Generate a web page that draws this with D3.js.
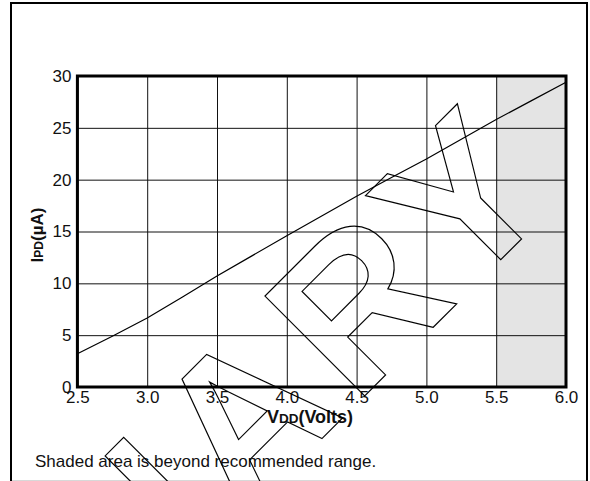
<!DOCTYPE html>
<html><head><meta charset="utf-8">
<script src="https://cdn.jsdelivr.net/npm/d3@7"></script>
<style>
body{margin:0;background:#fff}
svg{display:block}
text{font-family:"Liberation Sans",Arial,Helvetica,sans-serif}
</style>
</head><body>
<svg id="c" width="590" height="481"></svg>
<script>
// ---- data ----
const vdd = [2.5, 2.75, 3.0, 3.25, 3.5, 3.75, 4.0, 4.25, 4.5, 4.75, 5.0, 5.25, 5.5, 5.75, 6.0];
const ipd = [3.2, 4.9, 6.65, 8.65, 10.7, 12.65, 14.6, 16.5, 18.4, 20.2, 22.0, 23.9, 25.8, 27.6, 29.4];
const xTicks = [2.5, 3.0, 3.5, 4.0, 4.5, 5.0, 5.5, 6.0];
const yTicks = [0, 5, 10, 15, 20, 25, 30];
const shadedRange = [5.5, 6.0];
const footnote = "Shaded area is beyond recommended range.";
const watermark = "PRELIMINARY";

const svg = d3.select("#c");
const L = 77.4, R = 566, T = 76, B = 387;
const x = d3.scaleLinear().domain([2.5, 6.0]).range([L, R]);
const y = d3.scaleLinear().domain([0, 30]).range([B, T]);

// outer frame
svg.append("rect").attr("x", 11).attr("y", 3).attr("width", 576).attr("height", 520)
  .attr("fill", "#fff").attr("stroke", "#000").attr("stroke-width", 2);
svg.append("line").attr("x1", 12).attr("x2", 586).attr("y1", 480.5).attr("y2", 480.5)
  .attr("stroke", "#d8d8d8").attr("stroke-width", 1);

// shaded region
svg.append("rect").attr("x", x(shadedRange[0])).attr("y", T)
  .attr("width", x(shadedRange[1]) - x(shadedRange[0])).attr("height", B - T)
  .attr("fill", "#e4e4e4");

// grid
const gx = svg.append("g").attr("transform", `translate(0,${B})`)
  .call(d3.axisBottom(x).tickValues(xTicks).tickSize(-(B - T)).tickFormat(""));
const gy = svg.append("g").attr("transform", `translate(${L},0)`)
  .call(d3.axisLeft(y).tickValues(yTicks).tickSize(-(R - L)).tickFormat(""));
[gx, gy].forEach(g => {
  g.select(".domain").remove();
  g.selectAll("line").attr("stroke", "#111").attr("stroke-width", 1);
});

// data line
svg.append("path").datum(vdd.map((v, i) => [v, ipd[i]]))
  .attr("fill", "none").attr("stroke", "#000").attr("stroke-width", 1.2)
  .attr("d", d3.line().x(d => x(d[0])).y(d => y(d[1])));

// plot frame
svg.append("rect").attr("x", L).attr("y", T).attr("width", R - L).attr("height", B - T)
  .attr("fill", "none").attr("stroke", "#000").attr("stroke-width", 3);

// tick labels
const ax = svg.append("g").attr("transform", `translate(0,${B})`)
  .call(d3.axisBottom(x).tickValues(xTicks).tickSize(0).tickPadding(4).tickFormat(d3.format(".1f")));
const ay = svg.append("g").attr("transform", `translate(${L},0)`)
  .call(d3.axisLeft(y).tickValues(yTicks).tickSize(0).tickPadding(6).tickFormat(d3.format("d")));
[ax, ay].forEach(g => {
  g.select(".domain").remove();
  g.selectAll("text").attr("font-size", 17).attr("fill", "#111")
    .attr("font-family", '"Liberation Sans",Arial,sans-serif');
});

// axis titles
const xt = svg.append("text").attr("x", 310).attr("y", 423).attr("text-anchor", "middle")
  .attr("font-weight", "bold").attr("font-size", 18).attr("fill", "#111");
xt.append("tspan").text("V");
xt.append("tspan").attr("font-size", 13.5).text("DD");
xt.append("tspan").text("(Volts)");

const yt = svg.append("text").attr("transform", "translate(42.5,235) rotate(-90)")
  .attr("text-anchor", "middle").attr("font-weight", "bold").attr("font-size", 17).attr("fill", "#111");
yt.append("tspan").text("I");
yt.append("tspan").attr("font-size", 12).text("PD");
yt.append("tspan").text("(\u00B5A)");

// footnote
svg.append("text").attr("x", 35).attr("y", 467).attr("font-size", 17).attr("fill", "#111").text(footnote);

// watermark (outlined text)
const wg = svg.append("g");
const wt = wg.append("text").attr("x", 0).attr("y", 0)
  .attr("font-weight", "bold").attr("font-size", 205).attr("letter-spacing", 12)
  .attr("fill", "none").attr("stroke", "#000").attr("stroke-width", 1.2)
  .text(watermark);
const p = wt.node().getStartPositionOfChar(watermark.length - 1);
const cx = p.x + 0.333 * 205;
const a = -45 * Math.PI / 180;
const tx = 511 - cx * Math.cos(a), ty = 249.5 - cx * Math.sin(a);
wg.attr("transform", `translate(${tx},${ty}) rotate(-45)`);
</script>
</body></html>
